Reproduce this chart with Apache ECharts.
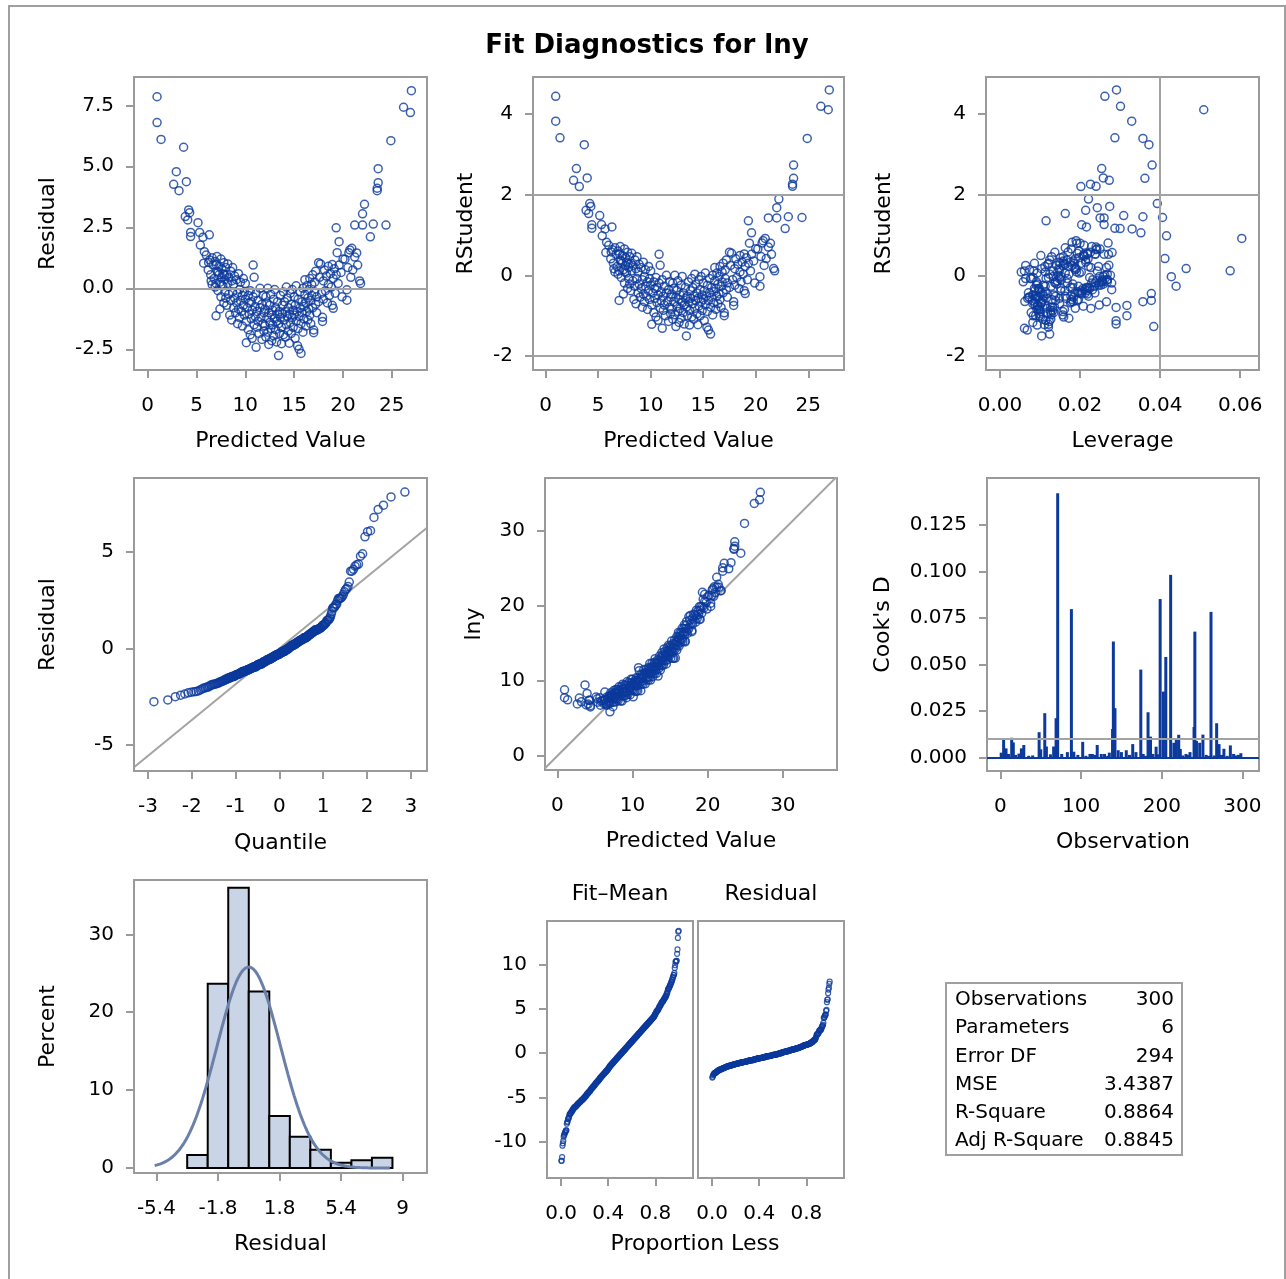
<!DOCTYPE html>
<html>
<head>
<meta charset="utf-8">
<title>Fit Diagnostics for lny</title>
<script src="https://cdn.jsdelivr.net/npm/echarts@6.0.0/dist/echarts.min.js"></script>
<style>
html,body{margin:0;padding:0;background:#fff;}
#main{width:1286px;height:1279px;}
</style>
</head>
<body>
<div id="main"></div>
<script>
// fit statistics
var MSE = 3.4387;
var nParams = 6;
var statLabels = ['Observations', 'Parameters', 'Error DF', 'MSE', 'R-Square', 'Adj R-Square'];
var statValues = ['300', '6', '294', '3.4387', '0.8864', '0.8845'];

// per observation: predicted value, residual, leverage
var predicted = [
  0.96, 0.96, 1.37, 3.68, 2.93, 3.96, 2.66, 3.21, 4.20, 4.30, 3.85, 4.10, 4.40, 4.40,
  5.15, 5.32, 5.66, 6.31, 5.39, 5.80, 6.00, 6.34, 5.73, 6.24, 6.50, 6.20, 6.45, 7.00,
  6.6, 6.7, 6.8, 6.9, 7.0, 7.1, 7.1, 7.2, 7.3, 7.3, 7.4, 7.5, 7.5, 7.6, 7.7, 7.7, 7.8, 7.8, 7.9, 8.0, 6.9, 7.4, 7.6, 7.2, 6.6, 7.9, 7.05, 7.55, 7.85, 8.0,
  8.1, 8.1, 8.2, 8.2, 8.3, 8.3, 8.4, 8.5, 8.5, 8.6, 8.6, 8.7, 8.7, 8.8, 8.8, 8.9, 8.9, 9.0, 9.1, 9.1, 9.2, 9.2, 9.3, 9.3, 9.4, 9.4, 9.5, 9.5, 9.6, 9.7, 9.7, 9.8, 9.8, 9.9, 9.9,
  10.0, 10.0, 10.1, 10.1, 10.2, 10.3, 10.3, 10.4, 10.4, 10.5, 10.5, 10.6, 10.6, 10.7, 10.7, 10.8, 10.8, 10.9, 10.9, 11.0, 11.0, 11.1, 11.1, 11.2, 11.2, 11.3, 11.3, 11.4, 11.5, 11.5, 11.6, 11.7, 11.7, 11.8, 11.8, 11.9, 11.9,
  12.0, 12.0, 12.1, 12.1, 12.2, 12.2, 12.3, 12.3, 12.4, 12.4, 12.5, 12.5, 12.6, 12.6, 12.7, 12.7, 12.8, 12.8, 12.9, 12.9, 13.0, 13.0, 13.1, 13.1, 13.2, 13.2, 13.3, 13.3, 13.4, 13.4, 13.5, 13.5, 13.6, 13.6, 13.7, 13.7, 13.8, 13.8, 13.9, 13.9,
  14.0, 14.0, 14.1, 14.1, 14.2, 14.2, 14.3, 14.3, 14.4, 14.4, 14.5, 14.5, 14.6, 14.6, 14.7, 14.7, 14.8, 14.8, 14.9, 14.9, 15.0, 15.0, 15.1, 15.1, 15.2, 15.2, 15.35, 15.3, 15.4, 15.4, 15.5, 15.5, 15.6, 15.6, 15.7, 15.7, 15.8, 15.8, 15.9, 15.9,
  16.0, 16.0, 16.1, 16.1, 16.2, 16.2, 16.3, 16.3, 16.4, 16.4, 16.5, 16.5, 16.6, 16.6, 16.7, 16.7, 16.8, 16.8, 16.9, 16.9, 17.0, 17.0, 17.1, 17.1, 17.2, 17.2, 17.3, 17.3, 17.5, 17.5, 17.6, 17.7, 17.8, 17.9, 17.9,
  18.0, 18.0, 18.1, 18.2, 18.3, 18.4, 18.5, 18.5, 18.6, 18.7, 18.8, 18.9, 18.9, 19.0, 19.0, 19.1, 19.2, 19.3, 19.3, 19.4, 19.5, 19.6, 19.6, 19.8, 19.9, 20.0,
  20.2, 20.4, 20.4, 20.6, 20.7, 20.9, 20.5, 21.0, 21.2, 21.4, 21.7, 21.8, 20.8, 21.5,
  21.2, 22.0, 22.0, 22.2, 23.1, 24.4, 22.8, 23.6, 23.6, 23.5, 23.5, 24.9, 27.0, 26.2, 26.9
];
var residual = [
  7.85, 6.79, 6.10, 5.78, 4.78, 4.37, 4.26, 4.00, 3.21, 3.10, 2.94, 2.80, 2.29, 2.12,
  2.69, 2.29, 2.09, 2.19, 1.77, 1.50, 1.36, 1.16, 1.03, 1.06, 0.30, 0.75, 0.55, -1.13,
  1.25, 0.95, 0.40, 1.10, 0.20, 0.70, 1.30, -0.10, 0.55, 0.90, 0.25, 1.20, -0.35, 0.80, 0.10, 0.60, 1.05, -0.60, 0.35, 0.85, 0.05, -0.85, 0.45, 0.65, 0.15, -0.15, 0.95, 0.15, 0.55, -0.40,
  0.55, -0.70, 0.20, 1.00, -0.25, 0.45, -1.10, 0.70, -0.50, 0.30, -1.30, -0.15, 0.85, -0.80, 0.15, 0.50, -0.40, -1.00, 0.35, -0.60, -1.45, -0.20, 0.60, -0.85, -0.05, -1.20, 0.25, -0.50, -0.95, -0.30, -1.55, 0.40, -0.70, -0.15, -1.10,
  -0.45, 0.20, -1.35, -2.23, -0.80, -1.70, -0.30, -1.05, -0.60, -1.90, -0.10, -1.25, -0.55, -2.05, -0.90, 0.95, -0.35, 0.45, -1.50, -0.75, -1.15, -2.42, -0.20, -1.60, -0.95, -0.50, -1.35, -1.85, -0.80, 0.00, -1.20, -2.10, -0.65, -1.45, -0.30, -1.00, -1.75,
  -0.85, -1.55, -0.35, -2.00, -1.20, -0.60, -1.80, 0.00, -1.00, -2.30, -1.40, -0.70, -1.65, -0.25, -1.10, -2.15, -0.90, -1.50, -0.45, -1.95, -1.25, -0.05, -1.70, -0.80, -1.35, -2.20, -1.05, -0.55, -2.76, -1.45, -0.95, -1.85, -0.30, -1.20, -2.27, -1.60, -0.70, -1.05, -1.90, -0.15,
  -1.30, -0.55, -2.00, -0.95, -1.50, 0.05, -1.15, -0.40, -1.75, -0.80, -2.25, -1.05, -0.20, -1.40, -0.65, -1.85, -1.20, -0.05, -0.90, -1.60, -0.35, -1.10, -2.05, -0.70, -1.35, 0.10, -2.36, -0.95, -0.45, -1.65, -2.50, -1.15, -0.15, -0.80, -2.67, -1.45, -0.55, -1.00, -1.80, 0.00,
  -0.75, -1.25, -0.25, 0.35, -1.55, -0.60, -0.95, 0.10, -1.30, -0.40, -0.05, -0.85, 0.40, -1.10, -0.50, -1.45, 0.15, -0.30, -0.80, 0.55, -1.82, -1.71, -0.15, 0.25, -0.65, 0.70, -1.00, -0.35, 1.05, -0.55, 0.45, 1.00, -0.20, -1.19, -1.36,
  0.30, -0.45, 0.75, -0.10, 0.50, -0.60, 0.90, 0.15, -0.30, 0.60, 0.05, 0.97, -0.70, -0.82, 0.40, 0.80, -0.20, 2.48, 0.55, 1.46, 0.20, 1.91, 0.95, 0.65, -0.35, 1.20,
  1.19, -0.06, -0.49, 1.46, 1.57, 1.64, 0.85, 0.75, 1.28, 1.45, 0.30, 0.20, 0.45, 0.95,
  2.59, 2.59, 3.05, 3.44, 2.63, 2.59, 2.11, 4.90, 4.33, 4.10, 4.00, 6.05, 8.10, 7.42, 7.20
];
var leverage = [
  0.0262, 0.0329, 0.0287, 0.0372, 0.0254, 0.0258, 0.0273, 0.0202, 0.0393, 0.0274, 0.0214, 0.0163, 0.0204, 0.0287,
  0.0309, 0.0260, 0.0330, 0.0216, 0.0416, 0.0180, 0.0210, 0.0240, 0.0280, 0.0170, 0.0190, 0.0220, 0.0150, 0.0378,
  0.0163, 0.0238, 0.0112, 0.0197, 0.0061, 0.0124, 0.0229, 0.0083, 0.0186, 0.0102, 0.0074, 0.0178, 0.0247, 0.0151, 0.0093, 0.0214, 0.0137, 0.0098, 0.0266, 0.0129, 0.0172, 0.0218, 0.0064, 0.0158, 0.0203, 0.0115, 0.0271, 0.0191, 0.0086, 0.0094,
  0.0122, 0.0217, 0.0084, 0.0193, 0.0256, 0.0141, 0.0088, 0.0167, 0.0236, 0.0104, 0.0149, 0.0079, 0.0158, 0.0213, 0.0053, 0.0119, 0.0182, 0.0072, 0.0227, 0.0086, 0.0126, 0.0268, 0.0147, 0.0204, 0.0133, 0.0062, 0.0188, 0.0113, 0.0221, 0.0091, 0.0161, 0.0246, 0.0097, 0.0076, 0.0179,
  0.0108, 0.0243, 0.0094, 0.0121, 0.0197, 0.0134, 0.0257, 0.0069, 0.0152, 0.0101, 0.0224, 0.0087, 0.0176, 0.0114, 0.0081, 0.0209, 0.0168, 0.0272, 0.0117, 0.0194, 0.0139, 0.0061, 0.0232, 0.0096, 0.0163, 0.0128, 0.0248, 0.0089, 0.0201, 0.0146, 0.0103, 0.0123, 0.0279, 0.0131, 0.0058, 0.0184, 0.0099,
  0.0118, 0.0092, 0.0238, 0.0107, 0.0183, 0.0097, 0.0128, 0.0262, 0.0073, 0.0384, 0.0208, 0.0087, 0.0157, 0.0143, 0.0196, 0.0082, 0.0134, 0.0227, 0.0091, 0.0172, 0.0104, 0.0249, 0.0078, 0.0187, 0.0112, 0.0290, 0.0148, 0.0219, 0.0104, 0.0099, 0.0177, 0.0083, 0.0138, 0.0266, 0.0093, 0.0126, 0.0203, 0.0116, 0.0159, 0.0064,
  0.0102, 0.0223, 0.0127, 0.0089, 0.0188, 0.0268, 0.0081, 0.0142, 0.0119, 0.0237, 0.0111, 0.0166, 0.0153, 0.0094, 0.0212, 0.0098, 0.0178, 0.0258, 0.0084, 0.0132, 0.0229, 0.0106, 0.0290, 0.0162, 0.0087, 0.0198, 0.0121, 0.0109, 0.0247, 0.0101, 0.0068, 0.0193, 0.0148, 0.0071, 0.0124, 0.0136, 0.0216, 0.0096, 0.0157, 0.0276,
  0.0113, 0.0176, 0.0242, 0.0187, 0.0098, 0.0207, 0.0139, 0.0163, 0.0082, 0.0258, 0.0152, 0.0107, 0.0221, 0.0129, 0.0196, 0.0290, 0.0144, 0.0253, 0.0102, 0.0203, 0.0317, 0.0127, 0.0168, 0.0149, 0.0231, 0.0214, 0.0092, 0.0137, 0.0226, 0.0181, 0.0158, 0.0219, 0.0268, 0.0357, 0.0317,
  0.0147, 0.0252, 0.0188, 0.0121, 0.0163, 0.0224, 0.0209, 0.0113, 0.0268, 0.0176, 0.0124, 0.0238, 0.0152, 0.0378, 0.0171, 0.0197, 0.0256, 0.0115, 0.0159, 0.0192, 0.0133, 0.0352, 0.0218, 0.0183, 0.0279, 0.0242,
  0.025, 0.0428, 0.044, 0.027, 0.019, 0.0604, 0.021, 0.0412, 0.024, 0.020, 0.0465, 0.0575, 0.018, 0.026,
  0.025, 0.026, 0.0243, 0.0221, 0.0357, 0.0406, 0.030, 0.038, 0.0362, 0.0226, 0.024, 0.0357, 0.0291, 0.0301, 0.0509
];

// Cook's D needles (observation number, value)
var cookObs = [1, 4, 7, 10, 14, 16, 19, 23, 26, 29, 35, 40, 48, 50, 55, 57, 62, 66, 69, 71, 76, 83, 88, 91, 96, 102, 106, 111, 114, 117, 120, 125, 129, 133, 135, 139, 140, 142, 146, 150, 156, 160, 164, 168, 174, 177, 180, 183, 186, 189, 193, 195, 198, 202, 205, 211, 215, 218, 221, 223, 226, 230, 233, 235, 240, 241, 243, 247, 251, 255, 258, 261, 265, 268, 271, 274, 277, 281, 285, 289, 292, 295, 298];
var cookD = [0.0027, 0.0101, 0.005, 0.002, 0.0107, 0.0082, 0.0015, 0.0022, 0.005, 0.0068, 0.001, 0.0012, 0.0137, 0.0045, 0.0239, 0.006, 0.0018, 0.006, 0.0212, 0.142, 0.002, 0.003, 0.0798, 0.0032, 0.0015, 0.0085, 0.001, 0.002, 0.002, 0.0015, 0.0068, 0.002, 0.002, 0.001, 0.0027, 0.0154, 0.0624, 0.0266, 0.004, 0.003, 0.004, 0.0015, 0.0073, 0.003, 0.0473, 0.002, 0.001, 0.0244, 0.0113, 0.002, 0.0059, 0.0018, 0.0852, 0.0355, 0.0541, 0.0982, 0.008, 0.0105, 0.0123, 0.0047, 0.0012, 0.002, 0.0015, 0.003, 0.0165, 0.0677, 0.009, 0.008, 0.0124, 0.0015, 0.001, 0.0783, 0.0012, 0.0185, 0.0073, 0.0015, 0.0048, 0.001, 0.0066, 0.002, 0.0012, 0.0015, 0.0024];

// residual histogram (bin midpoints, percent)
var binWidth = 1.2;
var binMid = [-3.0, -1.8, -0.6, 0.6, 1.8, 3.0, 4.2, 5.4, 6.6, 7.8];
var binPct = [1.67, 23.67, 36.0, 22.67, 6.67, 4.0, 2.33, 0.67, 1.0, 1.33];

// tick values
var predTicks = [0, 5, 10, 15, 20, 25];
var residTicks = [-2.5, 0, 2.5, 5, 7.5];
var rstudTicks = [-2, 0, 2, 4];
var levTicks = [0, 0.02, 0.04, 0.06];
var quantTicks = [-3, -2, -1, 0, 1, 2, 3];
var qqTicks = [-5, 0, 5];
var lnyTicks = [0, 10, 20, 30];
var obsTicks = [0, 100, 200, 300];
var cookTicks = [0, 0.025, 0.05, 0.075, 0.1, 0.125];
var histXTicks = [-5.4, -1.8, 1.8, 5.4, 9];
var pctTicks = [0, 10, 20, 30];
var propTicks = [0, 0.4, 0.8];
var rfTicks = [-10, -5, 0, 5, 10];

var font = 'DejaVu Sans';
var frameColor = '#9a9a9a';
var refColor = '#a3a3a3';
var dotColor = '#0b3a9c';

// derived diagnostics
var n = predicted.length;
var dfe = n - nParams;
var rstudent = residual.map(function (e, i) {
  var h = leverage[i];
  var s2 = (dfe * MSE - e * e / (1 - h)) / (dfe - 1);
  return e / Math.sqrt(s2 * (1 - h));
});
var lny = predicted.map(function (p, i) { return p + residual[i]; });
var meanY = lny.reduce(function (a, b) { return a + b; }, 0) / n;

function probit(p) {
  var a = [-39.69683028665376, 220.9460984245205, -275.9285104469687, 138.3577518672690, -30.66479806614716, 2.506628277459239];
  var b = [-54.47609879822406, 161.5858368580409, -155.6989798598866, 66.80131188771972, -13.28068155288572];
  var c = [-0.007784894002430293, -0.3223964580411365, -2.400758277161838, -2.549732539343734, 4.374664141464968, 2.938163982698783];
  var d = [0.007784695709041462, 0.3224671290700398, 2.445134137142996, 3.754408661907416];
  var q, r;
  if (p < 0.02425) {
    q = Math.sqrt(-2 * Math.log(p));
    return (((((c[0] * q + c[1]) * q + c[2]) * q + c[3]) * q + c[4]) * q + c[5]) / ((((d[0] * q + d[1]) * q + d[2]) * q + d[3]) * q + 1);
  }
  if (p > 1 - 0.02425) {
    q = Math.sqrt(-2 * Math.log(1 - p));
    return -(((((c[0] * q + c[1]) * q + c[2]) * q + c[3]) * q + c[4]) * q + c[5]) / ((((d[0] * q + d[1]) * q + d[2]) * q + d[3]) * q + 1);
  }
  q = p - 0.5; r = q * q;
  return (((((a[0] * r + a[1]) * r + a[2]) * r + a[3]) * r + a[4]) * r + a[5]) * q / (((((b[0] * r + b[1]) * r + b[2]) * r + b[3]) * r + b[4]) * r + 1);
}

var sortedRes = residual.slice().sort(function (a, b) { return a - b; });
var sortedFit = predicted.map(function (p) { return p - meanY; }).sort(function (a, b) { return a - b; });
var qqData = sortedRes.map(function (r, i) { return [probit((i + 1 - 0.375) / (n + 0.25)), r]; });
var rfFit = sortedFit.map(function (v, i) { return [(i + 0.5) / n, v]; });
var rfRes = sortedRes.map(function (v, i) { return [(i + 0.5) / n, v]; });

var sigma = Math.sqrt(MSE);
var curve = [];
for (var xv = -5.5; xv <= 8.26; xv += 0.05) {
  curve.push([xv, binWidth * 100 / (sigma * Math.sqrt(2 * Math.PI)) * Math.exp(-0.5 * xv * xv / (sigma * sigma))]);
}

var grids = [
  {left: 134, top: 77, width: 293, height: 293},
  {left: 533, top: 77, width: 311, height: 293},
  {left: 986, top: 77, width: 273, height: 293},
  {left: 134, top: 478, width: 293, height: 293},
  {left: 545, top: 478, width: 292, height: 292},
  {left: 987, top: 478, width: 272, height: 293},
  {left: 134, top: 880, width: 293, height: 293},
  {left: 547, top: 921, width: 146, height: 257},
  {left: 698, top: 921, width: 146, height: 257}
].map(function (g) {
  return Object.assign({show: true, borderColor: frameColor, borderWidth: 2, backgroundColor: 'transparent', containLabel: false, outerBoundsMode: 'none'}, g);
});

function fixed(k) { return function (v) { return Number(v).toFixed(k); }; }

function makeAxis(gi, min, max, ticks, fmt, name, gap, noLabels, isX) {
  return {
    type: 'value', gridIndex: gi, min: min, max: max,
    name: name || '', nameLocation: 'middle', nameGap: gap, nameMoveOverlap: false,
    nameTextStyle: {fontFamily: font, fontSize: 22, color: '#000'},
    axisLine: {show: false, onZero: false},
    axisTick: {show: !noLabels, length: 8, inside: false, customValues: ticks, lineStyle: {color: frameColor, width: 2}},
    axisLabel: {show: !noLabels, customValues: ticks, formatter: fmt, margin: isX ? 26 : 20, fontFamily: font, fontSize: 20, color: '#000', hideOverlap: false},
    splitLine: {show: false}
  };
}

var xAxes = [
  makeAxis(0, -1.4, 28.6, predTicks, fixed(0), 'Predicted Value', 60, false, true),
  makeAxis(1, -1.2, 28.4, predTicks, fixed(0), 'Predicted Value', 60, false, true),
  makeAxis(2, -0.0035, 0.0647, levTicks, fixed(2), 'Leverage', 60, false, true),
  makeAxis(3, -3.32, 3.37, quantTicks, fixed(0), 'Quantile', 61, false, true),
  makeAxis(4, -1.64, 37.2, lnyTicks, fixed(0), 'Predicted Value', 60, false, true),
  makeAxis(5, -16.6, 320.5, obsTicks, fixed(0), 'Observation', 60, false, true),
  makeAxis(6, -6.71, 10.42, histXTicks, function (v) { return String(v); }, 'Residual', 60, false, true),
  makeAxis(7, -0.12, 1.12, propTicks, fixed(1), '', 55, false, true),
  makeAxis(8, -0.12, 1.12, propTicks, fixed(1), '', 55, false, true)
];
var yAxes = [
  makeAxis(0, -3.35, 8.66, residTicks, fixed(1), 'Residual', 75),
  makeAxis(1, -2.34, 4.9, rstudTicks, fixed(0), 'RStudent', 56),
  makeAxis(2, -2.34, 4.9, rstudTicks, fixed(0), 'RStudent', 91),
  makeAxis(3, -6.35, 8.83, qqTicks, fixed(0), 'Residual', 75),
  makeAxis(4, -1.87, 37.0, lnyTicks, fixed(0), 'lny', 60),
  makeAxis(5, -0.00715, 0.1502, cookTicks, fixed(3), "Cook's D", 93),
  makeAxis(6, -0.64, 36.98, pctTicks, fixed(0), 'Percent', 75),
  makeAxis(7, -14.14, 14.97, rfTicks, fixed(0), '', 60),
  makeAxis(8, -14.14, 14.97, rfTicks, fixed(0), '', 60, true)
];

var dot = {color: 'rgba(0,0,0,0)', borderColor: dotColor, borderWidth: 1.5};
var dotSmall = {color: 'rgba(0,0,0,0)', borderColor: dotColor, borderWidth: 1.2};

function refLines(items, color, width) {
  return {
    silent: true, symbol: 'none', animation: false,
    label: {show: false},
    lineStyle: {color: color || refColor, width: width || 2, type: 'solid'},
    emphasis: {disabled: true},
    data: items
  };
}

function pairs(xs, ys) { return xs.map(function (x, i) { return [x, ys[i]]; }); }

var series = [
  {type: 'scatter', xAxisIndex: 0, yAxisIndex: 0, symbolSize: 8, itemStyle: dot,
    data: pairs(predicted, residual), markLine: refLines([{yAxis: 0}])},
  {type: 'scatter', xAxisIndex: 1, yAxisIndex: 1, symbolSize: 8, itemStyle: dot,
    data: pairs(predicted, rstudent), markLine: refLines([{yAxis: 2}, {yAxis: -2}])},
  {type: 'scatter', xAxisIndex: 2, yAxisIndex: 2, symbolSize: 8, itemStyle: dot,
    data: pairs(leverage, rstudent), markLine: refLines([{yAxis: 2}, {yAxis: -2}, {xAxis: 2 * nParams / n}])},
  {type: 'line', xAxisIndex: 3, yAxisIndex: 3, symbol: 'none', silent: true, z: 1,
    lineStyle: {color: refColor, width: 2}, data: [[-3.32, -3.32 * sigma], [3.37, 3.37 * sigma]]},
  {type: 'scatter', xAxisIndex: 3, yAxisIndex: 3, symbolSize: 8, itemStyle: dot, z: 3, data: qqData},
  {type: 'line', xAxisIndex: 4, yAxisIndex: 4, symbol: 'none', silent: true, z: 1, clip: true,
    lineStyle: {color: refColor, width: 2}, data: [[-1.64, -1.64], [37.2, 37.2]]},
  {type: 'scatter', xAxisIndex: 4, yAxisIndex: 4, symbolSize: 8, itemStyle: dot, z: 3, data: pairs(predicted, lny)},
  {type: 'bar', xAxisIndex: 5, yAxisIndex: 5, barWidth: 3, itemStyle: {color: dotColor},
    data: pairs(cookObs, cookD),
    markLine: {
      silent: true, symbol: 'none', label: {show: false}, emphasis: {disabled: true},
      data: [
        {yAxis: 0, lineStyle: {color: dotColor, width: 2, type: 'solid'}},
        {yAxis: 4 / n, lineStyle: {color: refColor, width: 2, type: 'solid'}}
      ]
    }},
  {type: 'custom', xAxisIndex: 6, yAxisIndex: 6, data: pairs(binMid, binPct),
    encode: {x: 0, y: 1},
    renderItem: function (params, api) {
      var c = api.value(0), h = api.value(1);
      var p0 = api.coord([c - binWidth / 2, h]);
      var p1 = api.coord([c + binWidth / 2, 0]);
      return {type: 'rect', shape: {x: p0[0], y: p0[1], width: p1[0] - p0[0], height: p1[1] - p0[1]},
        style: {fill: '#c9d5e6', stroke: '#000', lineWidth: 2}};
    }},
  {type: 'line', xAxisIndex: 6, yAxisIndex: 6, symbol: 'none', silent: true, z: 5,
    lineStyle: {color: '#6a80a8', width: 3}, data: curve},
  {type: 'scatter', xAxisIndex: 7, yAxisIndex: 7, symbolSize: 5, itemStyle: dotSmall, data: rfFit},
  {type: 'scatter', xAxisIndex: 8, yAxisIndex: 8, symbolSize: 5, itemStyle: dotSmall, data: rfRes}
];

var graphics = [
  {type: 'rect', silent: true, z: -10, shape: {x: 9, y: 6, width: 1276, height: 1300},
    style: {fill: 'none', stroke: '#a0a0a0', lineWidth: 2}},
  {type: 'text', x: 647, y: 46, style: {text: 'Fit Diagnostics for lny', fontFamily: font, fontSize: 26, fontWeight: 'bold', fill: '#000', align: 'center', verticalAlign: 'middle'}},
  {type: 'text', x: 620, y: 894, style: {text: 'Fit\u2013Mean', fontFamily: font, fontSize: 22, fill: '#000', align: 'center', verticalAlign: 'middle'}},
  {type: 'text', x: 771, y: 894, style: {text: 'Residual', fontFamily: font, fontSize: 22, fill: '#000', align: 'center', verticalAlign: 'middle'}},
  {type: 'text', x: 695, y: 1244, style: {text: 'Proportion Less', fontFamily: font, fontSize: 22, fill: '#000', align: 'center', verticalAlign: 'middle'}},
  {type: 'rect', silent: true, shape: {x: 946, y: 983, width: 236, height: 172},
    style: {fill: '#fff', stroke: '#a0a0a0', lineWidth: 2}}
];
statLabels.forEach(function (lab, i) {
  var y = 1000 + i * 28.2;
  graphics.push({type: 'text', x: 955, y: y, style: {text: lab, fontFamily: font, fontSize: 20, fill: '#000', align: 'left', verticalAlign: 'middle'}});
  graphics.push({type: 'text', x: 1174, y: y, style: {text: statValues[i], fontFamily: font, fontSize: 20, fill: '#000', align: 'right', verticalAlign: 'middle'}});
});

var chart = echarts.init(document.getElementById('main'), null, {renderer: 'canvas'});
chart.setOption({
  backgroundColor: '#fff',
  animation: false,
  textStyle: {fontFamily: font},
  grid: grids,
  xAxis: xAxes,
  yAxis: yAxes,
  series: series,
  graphic: graphics
});
</script>
</body>
</html>
